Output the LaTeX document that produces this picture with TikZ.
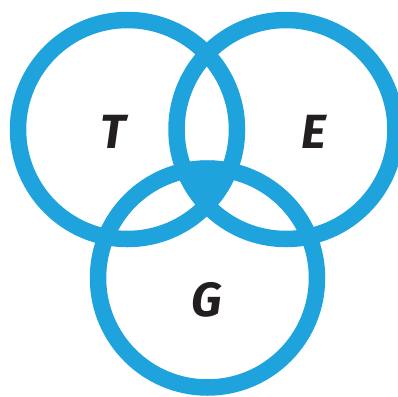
\documentclass[tikz,border=0pt]{standalone}
\usepackage{fontspec}
\setsansfont{Fira Sans}
\definecolor{vennblue}{RGB}{30,163,221}
\definecolor{letterdark}{RGB}{35,31,32}
\tikzset{
  ring/.style={draw=vennblue,line width=16.5pt},
  letter/.style={inner sep=0pt,text=letterdark,
    font=\sffamily\bfseries\itshape\fontsize{48}{48}\selectfont}
}
\begin{document}
\begin{tikzpicture}[x=1pt,y=-1pt]
\useasboundingbox (0,0) rectangle (398,396);
\clip (0,0) rectangle (398,396);
\coordinate (t) at (127.5,129.5);
\coordinate (e) at (286,129.5);
\coordinate (g) at (207.5,278);
% middle part shared by the three rings
\begin{scope}
\clip (t) circle[radius=117.5pt];
\clip (e) circle[radius=117.5pt];
\fill[vennblue] (g) circle[radius=117.5pt];
\end{scope}
\foreach \c in {t,e,g} {
  \draw[ring] (\c) circle[radius=109.5pt];
}
\node[letter] (T) at (113.5,131.5) {T};
\node[letter] (E) at (313.5,131.5) {E};
\node[letter] (G) at (207,300) {G};
\end{tikzpicture}
\end{document}
